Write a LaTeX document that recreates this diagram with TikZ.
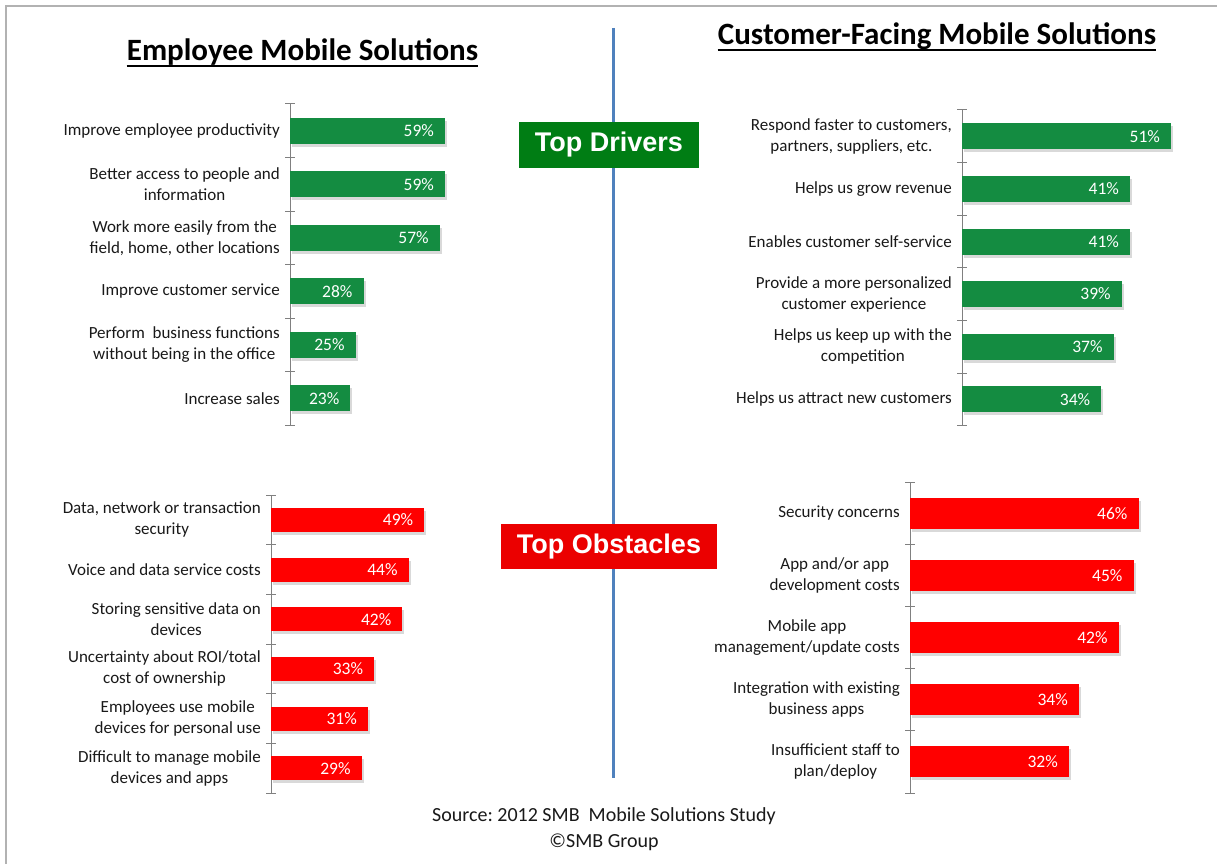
\documentclass[tikz,border=0pt]{standalone}
\usepackage{fontspec}
\setmainfont{Carlito}
\newfontfamily\arialfont{Liberation Sans}
\frenchspacing
\definecolor{barg}{RGB}{20,140,65}
\definecolor{barr}{RGB}{255,0,0}
\definecolor{boxg}{RGB}{0,125,20}
\definecolor{boxr}{RGB}{235,0,0}
\definecolor{divblue}{RGB}{79,129,189}
\definecolor{axgray}{RGB}{128,128,128}
\definecolor{labtext}{RGB}{25,25,25}
\newcommand\barchart[9]{%
  \draw[axisln] (#2,#3) -- (#2,#3+#5*#4);
  \foreach \k in {0,...,#5} {\draw[axisln] (#2-5,#3+\k*#4) -- (#2+5,#3+\k*#4);}
  \foreach \i/\l/\v in {#9} {
    \pgfmathsetmacro\yc{#3+(\i-0.5)*#4}
    \pgfmathsetmacro\xe{#2+\v*#6}
    \fill[black,opacity=0.15] (#2+2,\yc-#7/2+3) rectangle (\xe+2,\yc+#7/2+3);
    \fill[#8] (#2,\yc-#7/2) rectangle (\xe,\yc+#7/2);
    \node[val] (#1v\i) at (\xe-11,\yc) {\v\%};
    \node[lab] (#1l\i) at (#2-10,\yc) {\l};
  }%
}
\begin{document}
\begin{tikzpicture}[x=1pt,y=-1pt,
  lab/.style={anchor=east,align=center,text=labtext,inner sep=0pt,font=\fontsize{17}{21}\selectfont},
  val/.style={anchor=east,text=white,inner sep=0pt,font=\fontsize{17.5}{21}\selectfont},
  axisln/.style={draw=axgray,line width=1pt},
  frame/.style={draw=black!30,line width=1.5pt},
  title/.style={anchor=base,inner sep=0pt,font=\fontsize{31}{36}\selectfont\bfseries},
  uline/.style={line width=2pt},
  tagbox/.style={text=white,inner sep=0pt,font=\fontsize{27}{30}\arialfont\bfseries},
  divider/.style={draw=divblue,line width=3pt}]
\fill[white] (0,0) rectangle (1217,864);
\useasboundingbox (0,0) rectangle (1217,864);
\draw[frame] (6,864) -- (6,6) -- (1217,6);

% divider
\coordinate (dtop) at (613,28);
\coordinate (dbot) at (613,778);
\draw[divider] (dtop) -- (dbot);

% titles
\node[title] (t1) at (302.5,61) {Employee Mobile Solutions};
\draw[uline] ([yshift=-5pt]t1.base west) -- ([yshift=-5pt]t1.base east);
\node[title] (t2) at (937,45) {Customer-Facing Mobile Solutions\ };
\draw[uline] ([yshift=-5pt]t2.base west) -- ([yshift=-5pt]t2.base east);

% tags
\node[tagbox,fill=boxg,minimum width=180pt,minimum height=46pt] (drv) at (609,145) {Top Drivers};
\node[tagbox,fill=boxr,minimum width=216pt,minimum height=45pt] (obs) at (609,546.5) {Top Obstacles};

% charts
\barchart{a}{290}{104}{53.5}{6}{2.63}{26}{barg}{%
1/{Improve employee productivity}/59,
2/{Better access to people and\\information}/59,
3/{Work more easily from the\\field, home, other locations}/57,
4/{Improve customer service}/28,
5/{Perform\ \ business functions\\without being in the office}/25,
6/{Increase sales}/23}

\barchart{b}{962}{110}{52.6}{6}{4.1}{26}{barg}{%
1/{Respond faster to customers,\\partners, suppliers, etc.}/51,
2/{Helps us grow revenue}/41,
3/{Enables customer self-service}/41,
4/{Provide a more personalized\\customer experience}/39,
5/{Helps us keep up with the\\competition}/37,
6/{Helps us attract new customers}/34}

\barchart{c}{271}{495}{49.7}{6}{3.13}{24}{barr}{%
1/{Data, network or transaction\\security}/49,
2/{Voice and data service costs}/44,
3/{Storing sensitive data on\\devices}/42,
4/{Uncertainty about ROI/total\\cost of ownership}/33,
5/{Employees use mobile\\devices for personal use}/31,
6/{Difficult to manage mobile\\devices and apps}/29}

\barchart{d}{910}{482}{62.2}{5}{4.97}{31}{barr}{%
1/{Security concerns}/46,
2/{App and/or app\\development costs}/45,
3/{Mobile app\\management/update costs}/42,
4/{Integration with existing\\business apps}/34,
5/{Insufficient staff to\\plan/deploy}/32}

% source
\node[align=center,inner sep=0pt,text=labtext,font=\fontsize{20}{26}\selectfont] (src) at (604,829) {Source: 2012 SMB\ \ Mobile Solutions Study\\\textcopyright SMB Group};
\end{tikzpicture}
\end{document}
